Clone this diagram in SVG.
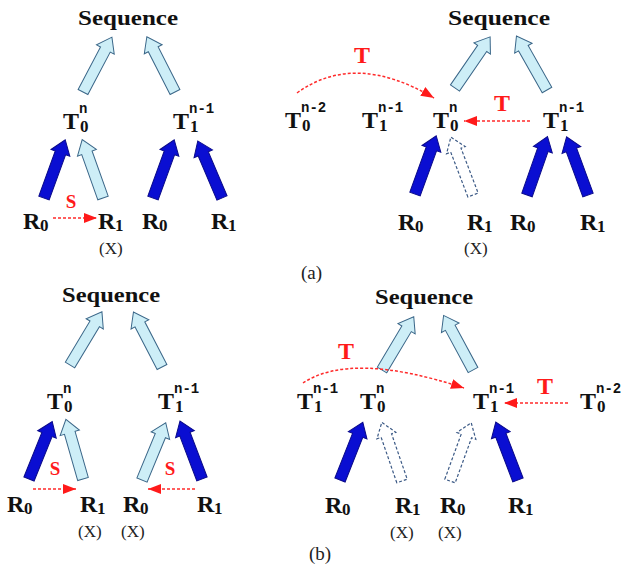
<svg xmlns="http://www.w3.org/2000/svg" xmlns:xlink="http://www.w3.org/1999/xlink" width="622" height="574" viewBox="0 0 622 574">
<style>
.t{font-family:"Liberation Serif","Times New Roman",serif;font-weight:bold;font-size:24px;fill:#111}
.sub{font-family:"Liberation Serif","Times New Roman",serif;font-weight:bold;font-size:17px;fill:#111}
.sup{font-family:"Liberation Mono","Courier New",monospace;font-weight:bold;font-size:14px;fill:#111}
.seq{font-family:"Liberation Serif","Times New Roman",serif;font-weight:bold;font-size:20px;fill:#111}
.x{font-family:"Liberation Serif","Times New Roman",serif;font-size:17px;fill:#222}
.cap{font-family:"Liberation Serif","Times New Roman",serif;font-size:19px;fill:#222}
.red{font-family:"Liberation Serif","Times New Roman",serif;font-weight:bold;fill:#ff1a1a}
.light{fill:#cdeef7;stroke:#3a6688;stroke-width:1}
.dark{fill:#0a0ed2;stroke:#0a0a8a;stroke-width:1}
.hollow{fill:#fff;stroke:#3c5a86;stroke-width:1.2;stroke-dasharray:3 2}
.rd{fill:none;stroke:#ff2a2a;stroke-width:1.5;stroke-dasharray:3 2}
</style>
<defs>
<path id="ba" d="M-5.5,0 L-5.5,-48 L-10,-48 L0,-62 L10,-48 L5.5,-48 L5.5,0 Z"/>
<marker id="ah" viewBox="0 0 10 10" refX="10" refY="5" markerWidth="13" markerHeight="10" markerUnits="userSpaceOnUse" orient="auto" preserveAspectRatio="none">
<path d="M0,0 L10,5 L0,10 Z" fill="#ff1a1a"/>
</marker>
</defs>
<rect width="622" height="574" fill="#fff"/>

<g id="connectors">
<!-- (a) left -->
<use href="#ba" class="light" transform="translate(83,92) rotate(27.8)"/>
<use href="#ba" class="light" transform="translate(175,92) rotate(-27)"/>
<use href="#ba" class="dark" transform="translate(44,198) rotate(20)"/>
<use href="#ba" class="light" transform="translate(103,198) rotate(-19.6)"/>
<use href="#ba" class="dark" transform="translate(153,198) rotate(20)"/>
<use href="#ba" class="dark" transform="translate(222,198) rotate(-23)"/>
<!-- (a) right -->
<use href="#ba" class="light" transform="translate(455,88) rotate(34.5)"/>
<use href="#ba" class="light" transform="translate(547,90) rotate(-29.5)"/>
<use href="#ba" class="dark" transform="translate(415,194) rotate(20)"/>
<use href="#ba" class="hollow" transform="translate(473,195) rotate(-20.9)"/>
<use href="#ba" class="dark" transform="translate(527,195) rotate(19.3)"/>
<use href="#ba" class="dark" transform="translate(588,195) rotate(-20.2)"/>
<!-- (b) left -->
<use href="#ba" class="light" transform="translate(70,365) rotate(31)"/>
<use href="#ba" class="light" transform="translate(162,367) rotate(-27.4)"/>
<use href="#ba" class="dark" transform="translate(29,479) rotate(22)"/>
<use href="#ba" class="light" transform="translate(83,479) rotate(-16)"/>
<use href="#ba" class="light" transform="translate(142,480) rotate(22.5)"/>
<use href="#ba" class="dark" transform="translate(202,479) rotate(-20.8)"/>
<!-- (b) right -->
<use href="#ba" class="light" transform="translate(382,370) rotate(30.8)"/>
<use href="#ba" class="light" transform="translate(473,370) rotate(-28.3)"/>
<use href="#ba" class="dark" transform="translate(340,480) rotate(21.6)"/>
<use href="#ba" class="hollow" transform="translate(402,481) rotate(-19)"/>
<use href="#ba" class="hollow" transform="translate(450,481) rotate(20)"/>
<use href="#ba" class="dark" transform="translate(518,480) rotate(-21)"/>
<!-- red dashed -->
<path class="rd" d="M53,218 L97,218" marker-end="url(#ah)"/>
<path class="rd" d="M297,93 Q355,51 434,98" marker-end="url(#ah)"/>
<path class="rd" d="M530,121 L464,121" marker-end="url(#ah)"/>
<path class="rd" d="M33,489 L76,489" marker-end="url(#ah)"/>
<path class="rd" d="M195,489 L148,489" marker-end="url(#ah)"/>
<path class="rd" d="M303,383 Q351,351 464,388" marker-end="url(#ah)"/>
<path class="rd" d="M568,403 L504,403" marker-end="url(#ah)"/>
<text class="red" x="71" y="208" font-size="19" text-anchor="middle">S</text>
<text class="red" x="362" y="63" font-size="24" text-anchor="middle">T</text>
<text class="red" x="502" y="111" font-size="24" text-anchor="middle">T</text>
<text class="red" x="55" y="475" font-size="19" text-anchor="middle">S</text>
<text class="red" x="170" y="475" font-size="19" text-anchor="middle">S</text>
<text class="red" x="346" y="359" font-size="24" text-anchor="middle">T</text>
<text class="red" x="545" y="394" font-size="24" text-anchor="middle">T</text>
</g>

<!-- (a) left nodes -->
<g id="a-seq-left"><text class="seq" x="78" y="25" textLength="100" lengthAdjust="spacingAndGlyphs">Sequence</text></g>
<g id="a-l-T0n"><text class="t" x="63" y="129">T</text><text class="sub" x="80" y="132">0</text><text class="sup" x="79" y="113">n</text></g>
<g id="a-l-T1n1"><text class="t" x="173" y="129">T</text><text class="sub" x="190" y="132">1</text><text class="sup" x="189" y="113">n-1</text></g>
<g id="a-l-R0a"><text class="t" x="23" y="229">R</text><text class="sub" x="40" y="231">0</text></g>
<g id="a-l-R1a"><text class="t" x="98" y="229">R</text><text class="sub" x="115" y="231">1</text><text class="x" x="99" y="254">(X)</text></g>
<g id="a-l-R0b"><text class="t" x="142" y="229">R</text><text class="sub" x="159" y="231">0</text></g>
<g id="a-l-R1b"><text class="t" x="211" y="229">R</text><text class="sub" x="228" y="231">1</text></g>

<!-- (a) right nodes -->
<g id="a-seq-right"><text class="seq" x="448" y="25" textLength="102" lengthAdjust="spacingAndGlyphs">Sequence</text></g>
<g id="a-r-T0n2"><text class="t" x="285" y="128">T</text><text class="sub" x="302" y="131">0</text><text class="sup" x="301" y="112">n-2</text></g>
<g id="a-r-T1n1a"><text class="t" x="362" y="128">T</text><text class="sub" x="379" y="131">1</text><text class="sup" x="378" y="112">n-1</text></g>
<g id="a-r-T0n"><text class="t" x="433" y="128">T</text><text class="sub" x="450" y="131">0</text><text class="sup" x="449" y="112">n</text></g>
<g id="a-r-T1n1b"><text class="t" x="543" y="128">T</text><text class="sub" x="560" y="131">1</text><text class="sup" x="559" y="112">n-1</text></g>
<g id="a-r-R0a"><text class="t" x="398" y="230">R</text><text class="sub" x="415" y="232">0</text></g>
<g id="a-r-R1a"><text class="t" x="467" y="230">R</text><text class="sub" x="484" y="232">1</text><text class="x" x="464" y="254">(X)</text></g>
<g id="a-r-R0b"><text class="t" x="510" y="230">R</text><text class="sub" x="527" y="232">0</text></g>
<g id="a-r-R1b"><text class="t" x="580" y="230">R</text><text class="sub" x="597" y="232">1</text></g>
<g id="cap-a"><text class="cap" x="301" y="279">(a)</text></g>

<!-- (b) left nodes -->
<g id="b-seq-left"><text class="seq" x="62" y="302" textLength="98" lengthAdjust="spacingAndGlyphs">Sequence</text></g>
<g id="b-l-T0n"><text class="t" x="47" y="409">T</text><text class="sub" x="64" y="412">0</text><text class="sup" x="63" y="393">n</text></g>
<g id="b-l-T1n1"><text class="t" x="158" y="409">T</text><text class="sub" x="175" y="412">1</text><text class="sup" x="174" y="393">n-1</text></g>
<g id="b-l-R0a"><text class="t" x="7" y="512">R</text><text class="sub" x="24" y="514">0</text></g>
<g id="b-l-R1a"><text class="t" x="80" y="512">R</text><text class="sub" x="97" y="514">1</text><text class="x" x="78" y="537">(X)</text></g>
<g id="b-l-R0b"><text class="t" x="123" y="512">R</text><text class="sub" x="140" y="514">0</text><text class="x" x="121" y="537">(X)</text></g>
<g id="b-l-R1b"><text class="t" x="197" y="512">R</text><text class="sub" x="214" y="514">1</text></g>

<!-- (b) right nodes -->
<g id="b-seq-right"><text class="seq" x="375" y="304" textLength="98" lengthAdjust="spacingAndGlyphs">Sequence</text></g>
<g id="b-r-T1n1a"><text class="t" x="297" y="409">T</text><text class="sub" x="314" y="412">1</text><text class="sup" x="313" y="393">n-1</text></g>
<g id="b-r-T0n"><text class="t" x="360" y="409">T</text><text class="sub" x="377" y="412">0</text><text class="sup" x="376" y="393">n</text></g>
<g id="b-r-T1n1b"><text class="t" x="473" y="409">T</text><text class="sub" x="490" y="412">1</text><text class="sup" x="489" y="393">n-1</text></g>
<g id="b-r-T0n2"><text class="t" x="580" y="409">T</text><text class="sub" x="597" y="412">0</text><text class="sup" x="596" y="393">n-2</text></g>
<g id="b-r-R0a"><text class="t" x="325" y="513">R</text><text class="sub" x="342" y="515">0</text></g>
<g id="b-r-R1a"><text class="t" x="395" y="513">R</text><text class="sub" x="412" y="515">1</text><text class="x" x="390" y="538">(X)</text></g>
<g id="b-r-R0b"><text class="t" x="440" y="513">R</text><text class="sub" x="457" y="515">0</text><text class="x" x="438" y="538">(X)</text></g>
<g id="b-r-R1b"><text class="t" x="508" y="513">R</text><text class="sub" x="525" y="515">1</text></g>
<g id="cap-b"><text class="cap" x="309" y="560">(b)</text></g>
</svg>
